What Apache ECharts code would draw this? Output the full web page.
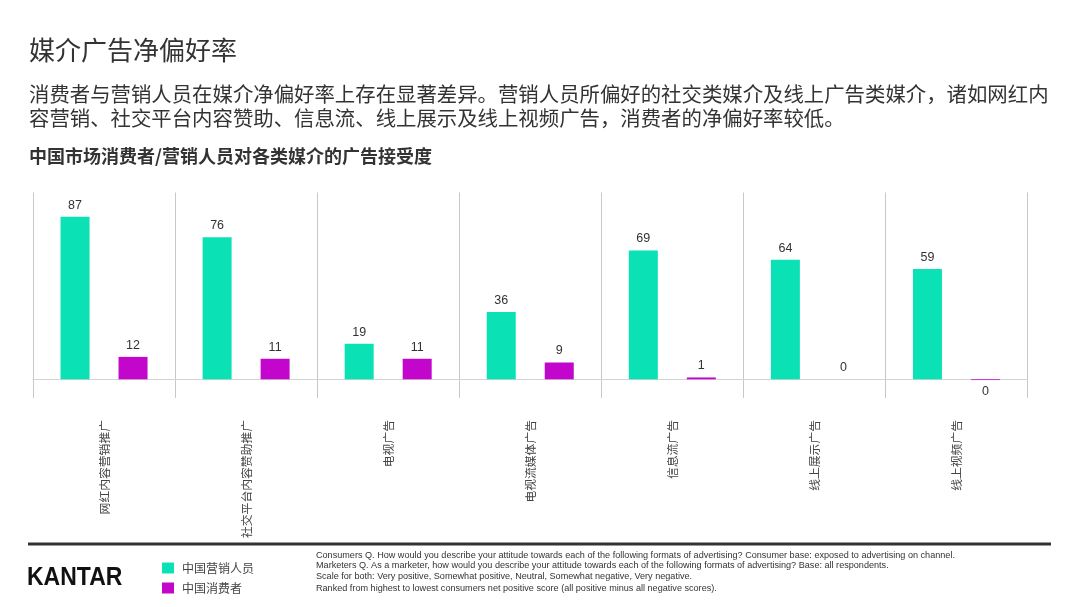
<!DOCTYPE html>
<html>
<head>
<meta charset="utf-8">
<script src="https://cdn.jsdelivr.net/npm/echarts@6/dist/echarts.min.js"></script>
<style>
html,body{margin:0;padding:0;background:#fff;}
#c{width:1080px;height:607px;}
</style>
</head>
<body>
<div id="c"></div>
<script>
// ---- data ----
const categories = ["网红内容营销推广","社交平台内容赞助推广","电视广告","电视流媒体广告","信息流广告","线上展示广告","线上视频广告"];
const marketers = [87, 76, 19, 36, 69, 64, 59];
const consumers = [12, 11, 11, 9, 1, 0, -0.4];
const seriesNames = ["中国营销人员", "中国消费者"];
const titleText = "媒介广告净偏好率";
const subtitleLines = [
  "消费者与营销人员在媒介净偏好率上存在显著差异。营销人员所偏好的社交类媒介及线上广告类媒介，诸如网红内",
  "容营销、社交平台内容赞助、信息流、线上展示及线上视频广告，消费者的净偏好率较低。"
];
const chartTitle = "中国市场消费者/营销人员对各类媒介的广告接受度";
const footnotes = [
  "Consumers Q. How would you describe your attitude towards each of the following formats of advertising? Consumer base: exposed to advertising on channel.",
  "Marketers Q. As a marketer, how would you describe your attitude towards each of the following formats of advertising? Base: all respondents.",
  "Scale for both: Very positive, Somewhat positive, Neutral, Somewhat negative, Very negative.",
  "Ranked from highest to lowest consumers net positive score (all positive minus all negative scores)."
];

const CJK = '"Noto Sans CJK SC","Noto Sans",sans-serif';
const LAT = '"Liberation Sans",Arial,sans-serif';
const TEAL = '#0ae2b5';
const PURPLE = '#c306cb';

function toItems(arr) {
  return arr.map(v => v < 0 ? { value: v, label: { position: 'bottom' } } : { value: v });
}

const chart = echarts.init(document.getElementById('c'), null, { renderer: 'canvas' });

const labelCommon = {
  show: true,
  position: 'top',
  distance: 5,
  color: '#333',
  fontSize: 12.5,
  fontFamily: LAT,
  formatter: p => String(Math.abs(Math.round(p.value)))
};

const graphics = [
  { type: 'text', left: 29, top: 37, style: { text: titleText, font: '26px ' + CJK, fill: '#333' } },
  { type: 'text', left: 29, top: 84, style: { text: subtitleLines[0], font: '20.4px ' + CJK, fill: '#333' } },
  { type: 'text', left: 29, top: 108, style: { text: subtitleLines[1], font: '20.4px ' + CJK, fill: '#333' } },
  { type: 'text', left: 29, top: 147, style: { text: chartTitle, font: 'bold 18px ' + CJK, fill: '#333' } },
  { type: 'rect', shape: { x: 28, y: 542.5, width: 1023, height: 3 }, style: { fill: '#333' } },
  { type: 'text', x: 27, y: 578, scaleY: 1.12, originX: 0, originY: 0,
    style: { text: 'KANTAR', font: 'bold 23px ' + LAT, fill: '#111', textVerticalAlign: 'middle' } }
];
footnotes.forEach((t, i) => {
  graphics.push({ type: 'text', left: 316, top: [551, 561, 572, 584][i], style: { text: t, font: '9.1px ' + LAT, fill: '#333' } });
});

chart.setOption({
  animation: false,
  backgroundColor: '#fff',
  grid: { left: 33, right: 52.5, top: 192.5, bottom: 209, containLabel: false },
  legend: {
    orient: 'vertical',
    left: 157,
    top: 557,
    itemWidth: 12,
    itemHeight: 11,
    itemGap: 8,
    icon: 'rect',
    textStyle: { fontFamily: CJK, fontSize: 12, color: '#444', padding: [0, 0, 0, 3] },
    data: seriesNames
  },
  xAxis: {
    type: 'category',
    data: categories,
    boundaryGap: true,
    axisLine: { show: true, onZero: true, lineStyle: { color: '#d3d3d3', width: 1 } },
    axisTick: { show: false },
    splitLine: { show: true, interval: 0, lineStyle: { color: '#c8c8c8', width: 1 } },
    axisLabel: {
      interval: 0,
      rotate: 90,
      margin: 22,
      fontFamily: CJK,
      fontSize: 11.8,
      color: '#444'
    }
  },
  yAxis: {
    type: 'value',
    min: -10,
    max: 100,
    interval: 10,
    show: true,
    axisLine: { show: false },
    axisTick: { show: false },
    axisLabel: { show: false },
    splitLine: { show: false }
  },
  series: [
    {
      name: seriesNames[0],
      type: 'bar',
      data: toItems(marketers),
      barWidth: 29,
      barGap: '100%',
      itemStyle: { color: TEAL },
      label: labelCommon
    },
    {
      name: seriesNames[1],
      type: 'bar',
      data: toItems(consumers),
      barWidth: 29,
      barGap: '100%',
      itemStyle: { color: PURPLE },
      label: labelCommon
    }
  ],
  graphic: graphics
});
</script>
</body>
</html>
